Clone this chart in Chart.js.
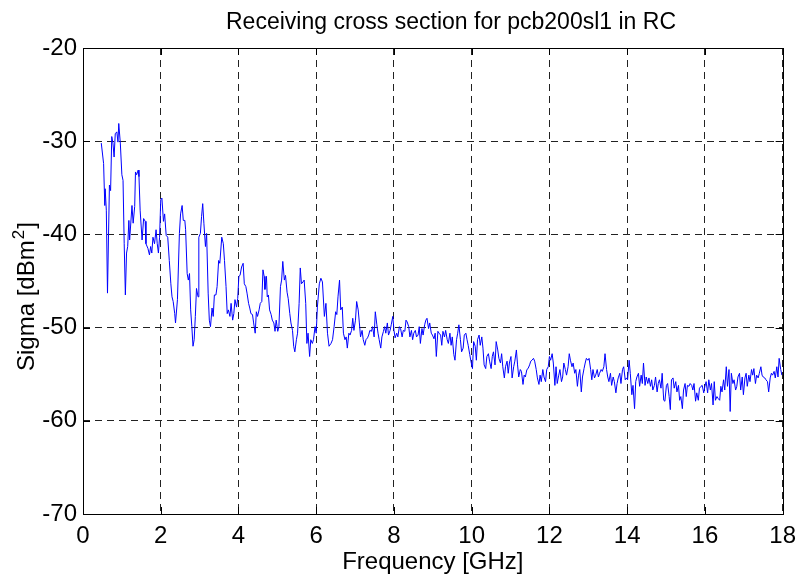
<!DOCTYPE html>
<html>
<head>
<meta charset="utf-8">
<title>Receiving cross section</title>
<script src="https://cdn.jsdelivr.net/npm/chart.js@4"></script>
<style>
  html, body { margin: 0; padding: 0; background: #fff; }
  #rcs { display: block; }
</style>
</head>
<body>
<canvas id="rcs" width="804" height="581"></canvas>
<script>
// measured sweep, pcb200sl1 in the reverberation chamber
const freqGHz = [
  0.47,0.53,0.56,0.57,0.60,0.63,0.68,0.71,0.74,0.77,0.80,0.83,0.87,0.90,0.92,0.96,1.00,1.03,1.06,1.09,
  1.12,1.15,1.18,1.20,1.26,1.29,1.33,1.35,1.38,1.42,1.44,1.47,1.52,1.56,1.60,1.62,1.67,1.71,1.74,1.77,
  1.80,1.84,1.88,1.91,1.94,1.97,2.00,2.03,2.07,2.10,2.14,2.18,2.22,2.26,2.29,2.32,2.36,2.38,2.43,2.48,
  2.51,2.55,2.58,2.62,2.64,2.68,2.71,2.74,2.77,2.80,2.83,2.86,2.89,2.92,2.96,2.98,3.02,3.05,
  3.08,3.11,3.15,3.18,3.22,3.25,3.28,3.32,3.35,3.38,3.42,3.45,3.49,3.52,3.57,3.61,3.64,3.68,3.71,3.74,
  3.78,3.81,3.85,3.88,3.91,3.95,3.98,4.01,4.04,4.08,4.12,4.15,4.19,4.22,4.26,4.29,4.32,4.36,4.39,4.43,
  4.46,4.49,4.53,4.56,4.60,4.63,4.66,4.68,4.72,4.74,4.77,4.80,4.84,4.87,4.91,4.94,4.97,5.01,5.04,5.08,
  5.11,5.14,5.18,5.21,5.25,5.28,5.32,5.35,5.39,5.42,5.45,5.49,5.52,5.56,5.59,5.62,5.66,5.69,5.73,5.76,
  5.79,5.83,5.86,5.90,5.93,5.97,6.00,6.03,
  6.08,6.12,6.16,6.21,6.25,6.29,6.33,6.38,6.42,6.46,6.50,6.53,6.56,6.60,6.63,6.67,6.70,6.74,6.77,6.80,
  6.84,6.87,6.91,6.94,6.97,7.01,7.04,7.08,7.11,7.14,7.18,7.21,7.25,7.28,7.32,7.35,7.38,7.42,7.45,7.49,
  7.52,7.56,7.59,7.62,7.66,7.69,7.73,7.76,7.79,7.83,7.86,7.90,7.93,7.97,8.00,8.03,8.07,8.10,8.14,8.17,
  8.21,8.24,8.28,8.31,8.34,8.38,8.41,8.45,8.48,8.51,8.55,8.58,8.62,8.65,8.68,8.72,8.75,8.79,8.82,8.85,
  8.89,8.92,8.96,8.99,
  9.03,9.06,9.09,9.13,9.16,9.20,9.23,9.26,9.30,9.33,9.37,9.40,9.44,9.47,9.50,9.54,9.57,9.61,9.64,9.67,
  9.71,9.74,9.78,9.81,9.85,9.88,9.91,9.95,9.98,10.02,10.05,10.09,10.12,10.15,10.19,10.22,10.26,10.29,10.32,10.36,
  10.39,10.43,10.46,10.50,10.53,10.56,10.60,10.63,10.67,10.70,10.74,10.77,10.80,10.84,10.87,10.91,10.94,10.97,11.01,11.04,
  11.08,11.11,11.15,11.18,11.21,11.25,11.28,11.32,11.35,11.38,11.42,11.45,11.49,11.52,11.55,11.59,11.62,11.66,11.69,11.73,
  11.76,11.79,11.83,11.86,11.90,11.93,11.97,
  12.00,12.03,12.07,12.10,12.14,12.17,12.20,12.24,12.27,12.31,12.34,12.37,12.41,12.44,12.48,12.51,12.54,12.58,12.61,12.65,
  12.68,12.72,12.75,12.78,12.82,12.85,12.89,12.92,12.95,12.99,13.02,13.06,13.09,13.12,13.16,13.19,13.23,13.26,13.29,13.33,
  13.36,13.40,13.43,13.47,13.50,13.53,13.57,13.60,13.64,13.67,13.71,13.74,13.77,13.81,13.84,13.88,13.91,13.95,13.98,14.01,
  14.05,14.08,14.12,14.15,14.19,14.22,14.25,14.29,14.32,14.36,14.39,14.42,14.46,14.49,14.53,14.56,14.60,14.63,14.66,14.70,
  14.73,14.77,14.80,14.83,14.87,14.90,14.94,
  14.97,15.01,15.04,15.08,15.11,15.14,15.18,15.21,15.25,15.28,15.32,15.35,15.38,15.42,15.45,15.49,15.52,15.55,15.59,15.62,
  15.66,15.69,15.72,15.76,15.79,15.83,15.86,15.90,15.93,15.97,16.00,16.03,16.07,16.10,16.14,16.17,16.21,16.24,16.27,16.31,
  16.34,16.38,16.41,16.44,16.48,16.51,16.55,16.58,16.62,16.65,16.68,16.72,16.75,16.79,16.82,16.85,16.89,16.92,16.96,16.99,
  17.03,17.06,17.09,17.13,17.16,17.20,17.23,17.26,17.30,17.33,17.37,17.40,17.44,17.47,17.50,17.54,17.57,17.61,17.64,17.68,
  17.71,17.74,17.78,17.81,17.85,17.88,17.91,17.95,17.98
];

// sigma in dBm^2, one value per frequency above
const sigmaDb = [
  -30.2,-32.4,-36.9,-35.1,-37.4,-46.3,-34.7,-35.3,-29.5,-30.2,-31.7,-29.2,-29.0,-30.1,-28.1,-30.2,-33.6,-34.2,-41.0,-46.5,
  -42.0,-41.3,-38.5,-40.6,-36.9,-38.8,-37.0,-33.3,-33.6,-33.1,-33.8,-37.4,-40.6,-38.3,-38.6,-41.0,-41.5,-42.2,-41.3,-42.0,
  -40.3,-41.0,-39.5,-41.0,-42.0,-40.3,-36.3,-36.1,-38.6,-37.8,-40.1,-40.3,-42.8,-45.3,-46.7,-47.2,-48.5,-49.5,-47.0,-39.9,
  -37.8,-36.9,-38.5,-38.5,-39.5,-44.2,-44.9,-44.2,-48.1,-49.9,-52.0,-51.3,-48.8,-45.8,-46.7,-40.3,-39.9,-38.1,
  -36.7,-38.8,-41.3,-39.9,-46.3,-49.2,-49.9,-47.9,-48.8,-46.5,-46.5,-45.6,-42.8,-43.1,-40.3,-41.0,-42.8,-45.6,-48.5,-48.1,
  -48.8,-47.4,-49.2,-48.5,-47.0,-47.8,-46.9,-44.5,-44.4,-43.5,-43.1,-45.3,-45.6,-46.3,-47.4,-47.9,-48.5,-48.6,-49.5,-50.6,
  -48.3,-48.8,-48.1,-47.4,-47.2,-43.8,-44.5,-45.9,-44.5,-46.7,-46.5,-48.1,-48.6,-49.2,-49.5,-50.4,-49.2,-50.4,-49.9,-45.6,
  -44.9,-42.9,-44.9,-44.4,-46.2,-46.9,-48.5,-49.5,-50.3,-52.0,-52.6,-51.3,-50.6,-47.4,-43.6,-45.3,-45.1,-44.9,-47.4,-51.7,
  -50.6,-53.1,-51.3,-51.7,-51.3,-49.9,-50.6,-47.8,
  -45.3,-44.7,-45.1,-48.8,-47.4,-50.6,-52.0,-51.7,-51.3,-49.9,-48.3,-48.6,-46.7,-44.9,-48.1,-47.8,-50.6,-51.3,-51.0,-52.2,
  -50.6,-50.8,-50.3,-49.0,-50.3,-49.2,-47.2,-48.1,-49.5,-51.0,-50.3,-51.3,-51.9,-51.3,-51.1,-50.8,-50.3,-50.4,-49.9,-51.0,
  -48.3,-49.7,-50.6,-51.3,-52.2,-51.0,-50.4,-49.9,-50.6,-49.5,-50.8,-50.3,-49.7,-48.8,-50.3,-51.1,-50.6,-51.0,-49.9,-50.1,
  -51.0,-50.3,-50.4,-49.2,-49.4,-49.9,-51.0,-50.3,-51.3,-50.6,-50.3,-51.0,-50.8,-49.9,-51.7,-50.1,-50.8,-49.7,-49.2,-49.0,
  -50.1,-49.5,-50.6,-50.8,
  -51.2,-50.6,-53.1,-50.4,-50.6,-50.8,-51.9,-50.4,-51.0,-50.3,-51.3,-51.7,-50.6,-51.9,-51.0,-52.9,-53.5,-51.3,-50.6,-49.7,
  -51.3,-52.6,-52.2,-50.8,-50.6,-51.3,-51.9,-52.9,-53.6,-54.4,-51.5,-52.0,-53.5,-51.3,-50.8,-51.9,-51.0,-52.2,-54.0,-54.4,
  -53.1,-52.8,-53.6,-54.4,-53.1,-52.6,-54.0,-51.5,-52.4,-53.3,-53.8,-52.8,-54.2,-55.4,-54.2,-53.6,-54.9,-53.8,-53.1,-55.4,
  -54.2,-53.6,-52.4,-54.0,-55.3,-54.5,-54.7,-56.1,-55.1,-55.3,-54.5,-54.4,-54.0,-53.6,-53.5,-53.3,-53.6,-54.5,-55.4,-56.1,
  -55.1,-55.8,-54.5,-55.3,-55.8,-54.5,-54.2,
  -53.1,-53.5,-52.8,-53.8,-56.2,-54.2,-56.0,-55.1,-54.5,-55.8,-55.3,-53.8,-54.5,-55.1,-54.2,-52.8,-53.5,-54.2,-53.8,-54.9,
  -54.5,-56.3,-55.1,-54.5,-56.9,-55.3,-54.4,-53.8,-53.3,-53.5,-53.3,-54.5,-55.6,-54.5,-55.4,-55.1,-54.5,-55.3,-54.9,-54.5,
  -54.7,-54.2,-52.8,-54.5,-55.3,-55.8,-54.9,-56.2,-55.3,-55.8,-57.0,-56.0,-55.4,-54.9,-56.0,-54.5,-54.2,-55.6,-55.4,-55.6,
  -53.5,-54.9,-57.2,-56.2,-58.7,-55.8,-55.3,-54.9,-56.3,-55.1,-56.0,-53.8,-56.2,-55.3,-56.0,-55.4,-56.3,-55.6,-56.7,-56.2,
  -55.3,-56.9,-56.0,-55.6,-56.5,-54.9,-57.8,
  -57.9,-56.2,-56.0,-57.4,-58.8,-55.6,-55.4,-56.5,-55.8,-56.9,-56.2,-57.8,-57.4,-58.7,-56.7,-56.0,-57.4,-56.2,-56.3,-56.0,
  -56.2,-56.7,-56.0,-57.9,-57.0,-57.8,-56.5,-56.3,-56.2,-57.0,-56.3,-55.8,-57.0,-55.6,-56.7,-56.0,-58.3,-55.8,-57.8,-57.4,
  -57.6,-57.8,-56.3,-56.9,-55.6,-56.7,-54.2,-56.3,-54.5,-59.0,-54.9,-56.0,-55.6,-56.7,-56.3,-55.3,-54.9,-56.7,-55.3,-57.2,
  -55.4,-54.9,-56.3,-55.1,-55.8,-54.5,-55.1,-54.4,-56.0,-55.1,-55.4,-54.9,-54.2,-55.1,-55.3,-55.4,-55.6,-55.8,-56.9,-55.4,
  -54.9,-55.1,-54.7,-55.4,-54.2,-55.3,-53.3,-54.5,-55.1
];

const xTicks = [0, 2, 4, 6, 8, 10, 12, 14, 16, 18];
const yTicks = [-70, -60, -50, -40, -30, -20];
const titleText = 'Receiving cross section for pcb200sl1 in RC';

const FONT = "'Liberation Sans', Arial, sans-serif";

// solid box around the plot with short inward tick marks on every side,
// plus the title and the y label (which needs a real superscript)
const axesBox = {
  id: 'axesBox',
  afterDraw(chart) {
    const { ctx, chartArea: a, scales } = chart;
    const len = 7;
    ctx.save();
    ctx.strokeStyle = '#000';
    ctx.lineWidth = 1;
    ctx.beginPath();
    xTicks.forEach(v => {
      const px = Math.round(scales.x.getPixelForValue(v)) + 0.5;
      ctx.moveTo(px, a.bottom); ctx.lineTo(px, a.bottom - len);
      ctx.moveTo(px, a.top); ctx.lineTo(px, a.top + len);
    });
    yTicks.forEach(v => {
      const py = Math.round(scales.y.getPixelForValue(v)) + 0.5;
      ctx.moveTo(a.left, py); ctx.lineTo(a.left + len, py);
      ctx.moveTo(a.right, py); ctx.lineTo(a.right - len, py);
    });
    ctx.stroke();
    ctx.strokeRect(Math.round(a.left) + 0.5, Math.round(a.top) + 0.5,
                   Math.round(a.right - a.left), Math.round(a.bottom - a.top));

    ctx.fillStyle = '#000';
    ctx.textBaseline = 'alphabetic';

    // title sits a little right of the canvas centre, like the matlab figure
    ctx.font = '23px ' + FONT;
    ctx.textAlign = 'center';
    ctx.fillText(titleText, 451, 29);

    // Sigma [dBm^2], rotated, reading bottom to top
    ctx.translate(34, 371);
    ctx.rotate(-Math.PI / 2);
    ctx.textAlign = 'left';
    ctx.font = '24px ' + FONT;
    const head = 'Sigma [dBm';
    ctx.fillText(head, 0, 0);
    let w = ctx.measureText(head).width + 1;
    ctx.font = '17px ' + FONT;
    ctx.fillText('2', w, -10);
    w += ctx.measureText('2').width + 1;
    ctx.font = '24px ' + FONT;
    ctx.fillText(']', w, 0);
    ctx.restore();
  }
};

const points = freqGHz.map((f, i) => ({ x: f, y: sigmaDb[i] }));

new Chart(document.getElementById('rcs'), {
  type: 'line',
  data: {
    datasets: [{
      data: points,
      borderColor: '#0000ff',
      borderWidth: 1,
      pointRadius: 0,
      tension: 0,
      fill: false
    }]
  },
  options: {
    responsive: false,
    animation: false,
    layout: { padding: { left: 0, right: 17, top: 48, bottom: 0 } },
    plugins: {
      legend: { display: false },
      tooltip: { enabled: false },
      title: { display: false }
    },
    scales: {
      x: {
        type: 'linear',
        min: 0,
        max: 18,
        afterBuildTicks: s => { s.ticks = xTicks.map(v => ({ value: v })); },
        afterFit: s => { s.height = 67; },
        grid: { color: '#222', lineWidth: 1, drawTicks: false },
        border: { display: false, dash: [7, 5] },
        ticks: { color: '#000', padding: 8, maxRotation: 0, font: { family: FONT, size: 24 } },
        title: {
          display: true,
          text: 'Frequency [GHz]',
          color: '#000',
          font: { family: FONT, size: 24, lineHeight: 1.2 },
          padding: { top: 0, bottom: 4 }
        }
      },
      y: {
        min: -70,
        max: -20,
        afterBuildTicks: s => { s.ticks = yTicks.map(v => ({ value: v })); },
        afterFit: s => { s.width = 83; },
        grid: { color: '#222', lineWidth: 1, drawTicks: false },
        border: { display: false, dash: [7, 5] },
        ticks: { color: '#000', padding: 6, font: { family: FONT, size: 24 } }
      }
    }
  },
  plugins: [axesBox]
});
</script>
</body>
</html>
